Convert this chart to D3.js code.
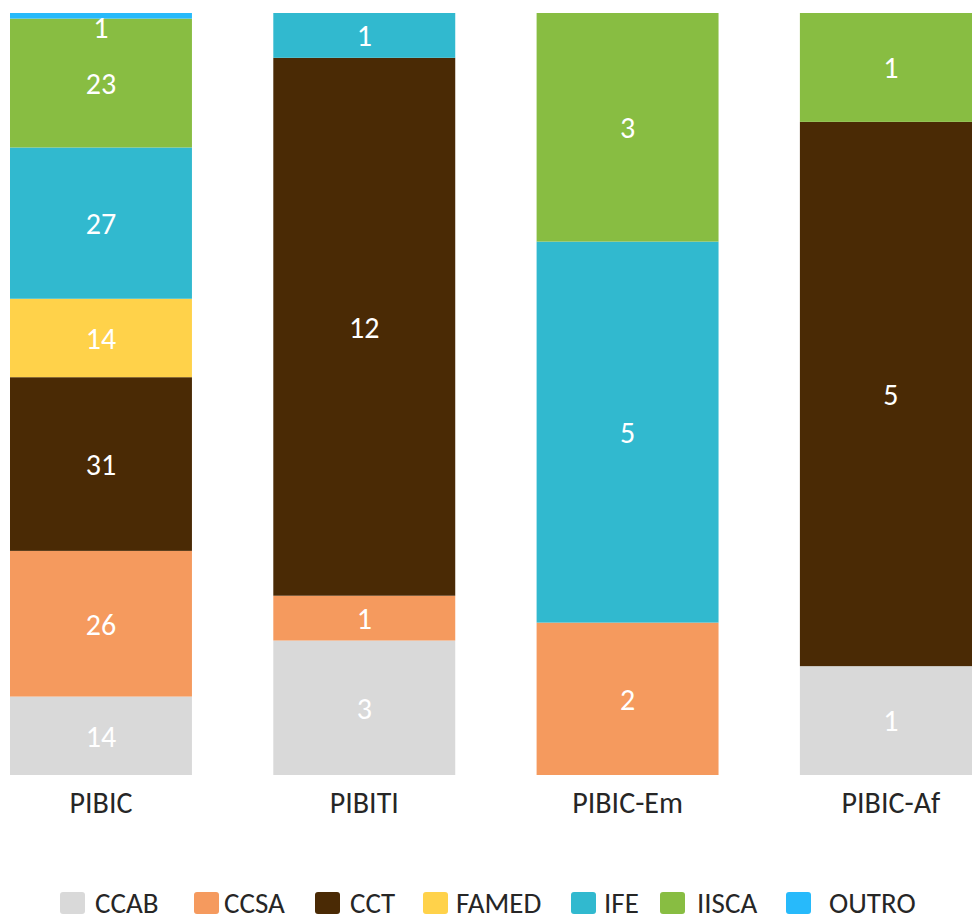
<!DOCTYPE html>
<html>
<head>
<meta charset="utf-8">
<script src="https://cdn.jsdelivr.net/npm/d3@7"></script>
<style>
  html, body { margin: 0; padding: 0; background: #fff; }
  svg { display: block; }
  text { font-family: Carlito, Lato, "Open Sans", sans-serif; }
</style>
</head>
<body>
<svg id="chart" width="972" height="920"></svg>
<script>
const categories = ["PIBIC", "PIBITI", "PIBIC-Em", "PIBIC-Af"];
const seriesNames = ["CCAB", "CCSA", "CCT", "FAMED", "IFE", "IISCA", "OUTRO"];
const CCAB  = [14, 3, 0, 1];
const CCSA  = [26, 1, 2, 0];
const CCT   = [31, 12, 0, 5];
const FAMED = [14, 0, 0, 0];
const IFE   = [27, 1, 5, 0];
const IISCA = [23, 0, 3, 1];
const OUTRO = [1, 0, 0, 0];
const colors = ["#D9D9D9", "#F59A5E", "#4A2A05", "#FFD24A", "#31B9CF", "#88BD42", "#27BAFB"];

const seriesValues = [CCAB, CCSA, CCT, FAMED, IFE, IISCA, OUTRO];
const rows = categories.map((c, i) => {
  const r = { cat: c };
  seriesNames.forEach((s, j) => r[s] = seriesValues[j][i]);
  return r;
});

const svg = d3.select("#chart");
const plotTop = 13, plotBottom = 775;
const FS = 30;

const x = d3.scaleBand().domain(categories)
  .range([10, 10 + 263.3 * (4 - 0.309)])
  .paddingInner(0.309).paddingOuter(0);
const y = d3.scaleLinear().domain([0, 1]).range([plotBottom, plotTop]);
const color = d3.scaleOrdinal().domain(seriesNames).range(colors);

const stack = d3.stack().keys(seriesNames).offset(d3.stackOffsetExpand);
const stacked = stack(rows);

const g = svg.append("g");
const layers = g.selectAll("g.layer").data(stacked).join("g")
  .attr("class", "layer")
  .attr("fill", d => color(d.key));

layers.selectAll("rect")
  .data(d => d.map(v => ({ v, key: d.key })).filter(d => d.v.data[d.key] > 0))
  .join("rect")
  .attr("x", d => x(d.v.data.cat))
  .attr("width", x.bandwidth())
  .attr("y", d => y(d.v[1]))
  .attr("height", d => y(d.v[0]) - y(d.v[1]));

// data labels
const labels = [];
stacked.forEach(layer => {
  layer.forEach(v => {
    const val = v.data[layer.key];
    if (val > 0) labels.push({ cat: v.data.cat, val, y0: v[0], y1: v[1] });
  });
});
g.selectAll("text.lbl").data(labels).join("text")
  .attr("class", "lbl")
  .attr("x", d => x(d.cat) + x.bandwidth() / 2)
  .attr("y", d => Math.max((y(d.y0) + y(d.y1)) / 2, plotTop + 14))
  .attr("dy", "0.36em")
  .attr("text-anchor", "middle")
  .attr("fill", "#fff")
  .attr("font-size", FS)
  .text(d => d.val);

// x axis
const xAxis = d3.axisBottom(x).tickSize(0).tickPadding(0);
const ax = svg.append("g").attr("transform", `translate(0,${plotBottom})`).call(xAxis);
ax.select(".domain").remove();
ax.selectAll("text").attr("font-size", FS).attr("fill", "#262626")
  .attr("y", 38).attr("dy", 0)
  .style("font-family", "Carlito, Lato, 'Open Sans', sans-serif");

// legend
const legendX = [60, 194, 315, 423, 571, 660, 786];
const legendTextX = [95, 224, 350, 456, 604, 697, 829];
const leg = svg.append("g");
seriesNames.forEach((s, i) => {
  leg.append("rect")
    .attr("x", legendX[i]).attr("y", 892)
    .attr("width", 25).attr("height", 22)
    .attr("rx", 3).attr("ry", 3)
    .attr("fill", color(s));
  leg.append("text")
    .attr("x", legendTextX[i]).attr("y", 913)
    .attr("font-size", 29).attr("fill", "#262626")
    .text(s);
});
</script>
</body>
</html>
